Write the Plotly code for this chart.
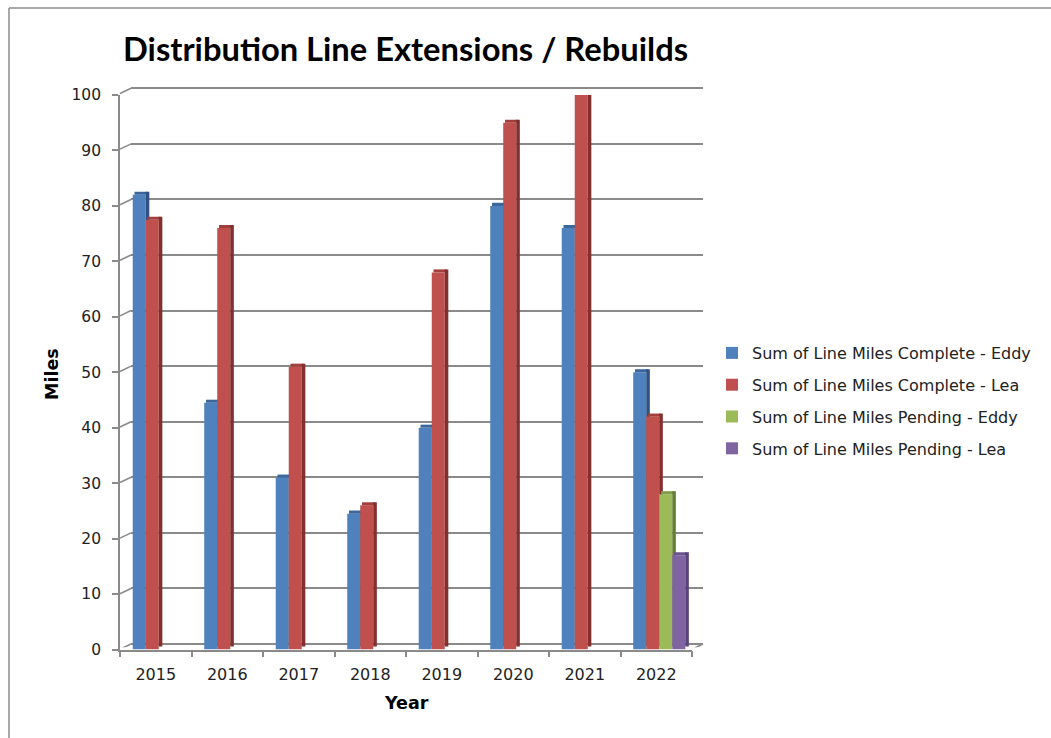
import plotly.graph_objects as go

# ---------------- data ----------------
years = ["2015", "2016", "2017", "2018", "2019", "2020", "2021", "2022"]
complete_eddy = [82, 44.5, 31, 24.5, 40, 80, 76, 50]
complete_lea = [77.5, 76, 51, 26, 68, 95, 100, 42]
pending_eddy = [None, None, None, None, None, None, None, 28]
pending_lea = [None, None, None, None, None, None, None, 17]
y_ticks = [0, 10, 20, 30, 40, 50, 60, 70, 80, 90, 100]
series_names = [
    "Sum of Line Miles Complete - Eddy",
    "Sum of Line Miles Complete - Lea",
    "Sum of Line Miles Pending - Eddy",
    "Sum of Line Miles Pending - Lea",
]
title_text = "Distribution Line Extensions / Rebuilds"
x_title = "Year"
y_title = "Miles"

# ---------------- styling ----------------
W, H = 1051, 738
def fx(px):
    return px / W
def fy(py):
    return 1 - py / H

front_colors = ["#4F81BD", "#C0504D", "#9BBB59", "#8064A2"]
side_colors = ["#2F5284", "#822F2D", "#667F36", "#58437A"]
top_colors = ["#3C679C", "#A23F3C", "#7F9C48", "#6B5390"]

bar_w = 0.182
offsets = [-0.322, -0.140, 0.042, 0.224]
side_w = 0.05
depth = 0.55
grid_col = "#8A8A8A"
font_main = "DejaVu Sans"

all_series = [complete_eddy, complete_lea, pending_eddy, pending_lea]

fig = go.Figure()

# dummy trace so the back-wall grid subplot is created
fig.add_trace(go.Scatter(x=[None], y=[None], xaxis="x", yaxis="y",
                         showlegend=False, hoverinfo="skip", mode="markers"))

for i, vals in enumerate(all_series):
    # front face
    fig.add_trace(go.Bar(
        x=years, y=vals, name=series_names[i],
        xaxis="x2", yaxis="y2",
        offset=offsets[i], width=bar_w,
        marker=dict(color=front_colors[i], line=dict(width=0)),
        legendgroup=f"g{i}", showlegend=True,
    ))
    # top face
    fig.add_trace(go.Bar(
        x=years, y=[depth if v is not None else None for v in vals],
        base=vals,
        xaxis="x2", yaxis="y2",
        offset=offsets[i] + side_w / 2, width=bar_w,
        marker=dict(color=top_colors[i], line=dict(width=0)),
        legendgroup=f"g{i}", showlegend=False, hoverinfo="skip",
    ))
    # side face
    fig.add_trace(go.Bar(
        x=years, y=vals, base=depth,
        xaxis="x2", yaxis="y2",
        offset=offsets[i] + bar_w, width=side_w,
        marker=dict(color=side_colors[i], line=dict(width=0)),
        legendgroup=f"g{i}", showlegend=False, hoverinfo="skip",
    ))

# back-wall axis: 0 at 644px, 100 at 88.3px
back_ppu = (644 - 88.3) / 100.0
back_lo, back_hi = -0.6, 100.6
front_shift = 0.95  # front tick sits ~5px lower than the back wall line

shapes = [
    dict(type="line", xref="paper", yref="paper", x0=fx(9), x1=fx(9),
         y0=fy(8), y1=0, line=dict(color="#8C8C8C", width=1.5)),
    dict(type="line", xref="paper", yref="paper", x0=fx(9), x1=1,
         y0=fy(8), y1=fy(8), line=dict(color="#8C8C8C", width=1.5)),
    # floor right-end diagonal
    dict(type="line", xref="paper", yref="y", x0=fx(692), x1=fx(703),
         y0=-front_shift, y1=0, line=dict(color=grid_col, width=1.6)),
]
for v in y_ticks:
    shapes.append(dict(type="line", xref="paper", yref="y", x0=fx(120), x1=fx(131),
                       y0=v - front_shift, y1=v, line=dict(color=grid_col, width=1.6)))

fig.update_layout(
    width=W, height=H, autosize=False,
    margin=dict(l=0, r=0, t=0, b=0, pad=0, autoexpand=False),
    paper_bgcolor="white", plot_bgcolor="rgba(0,0,0,0)",
    barmode="overlay",
    showlegend=True,
    font=dict(family=font_main, color="#222222"),
    # back wall grid
    xaxis=dict(domain=[fx(131), fx(703)], range=[0, 1], visible=False, fixedrange=True),
    yaxis=dict(domain=[fy(644 + (0 - back_lo) * back_ppu), fy(88.3 - (back_hi - 100) * back_ppu)],
               range=[back_lo, back_hi], tickvals=y_ticks,
               showgrid=True, gridcolor=grid_col, gridwidth=1.6,
               showticklabels=False, zeroline=False, showline=False, ticks="",
               anchor="x", automargin=False),
    # front axes
    xaxis2=dict(domain=[fx(120), fx(692)], anchor="y2", type="category",
                categoryorder="array", categoryarray=years,
                range=[-0.5, 7.5], automargin=False,
                showline=True, linecolor=grid_col, linewidth=1.6,
                ticks="outside", tickson="boundaries", ticklen=6,
                tickcolor=grid_col, tickwidth=1.6, ticklabelstandoff=9,
                showgrid=False, zeroline=False,
                tickfont=dict(family=font_main, size=16, color="#222222")),
    yaxis2=dict(domain=[fy(649.5), fy(95)], anchor="x2", range=[0, 100],
                tickvals=y_ticks, showline=True, linecolor=grid_col, linewidth=1.6,
                ticks="outside", ticklen=6, tickcolor=grid_col, tickwidth=1.6,
                showgrid=False, zeroline=False, ticklabelstandoff=8, automargin=False,
                tickfont=dict(family=font_main, size=15.5, color="#222222")),
    legend=dict(
        x=fx(712), xanchor="left", y=fy(336), yanchor="top",
        font=dict(family=font_main, size=16, color="#222222"),
        tracegroupgap=8, bgcolor="rgba(0,0,0,0)", itemclick=False,
    ),
    annotations=[
        dict(text=title_text, x=fx(405), y=fy(48), xref="paper", yref="paper",
             xanchor="center", yanchor="middle", showarrow=False,
             font=dict(family="Lato", size=32.7, color="#000000", weight="bold")),
        dict(text=f"<b>{x_title}</b>", x=fx(406), y=fy(703), xref="paper", yref="paper",
             xanchor="center", yanchor="middle", showarrow=False,
             font=dict(family=font_main, size=17.5, color="#000000")),
        dict(text=f"<b>{y_title}</b>", x=fx(52), y=fy(374), xref="paper", yref="paper",
             xanchor="center", yanchor="middle", showarrow=False, textangle=-90,
             font=dict(family=font_main, size=17.5, color="#000000")),
    ],
    shapes=shapes,
)

fig.write_html("out.html")
